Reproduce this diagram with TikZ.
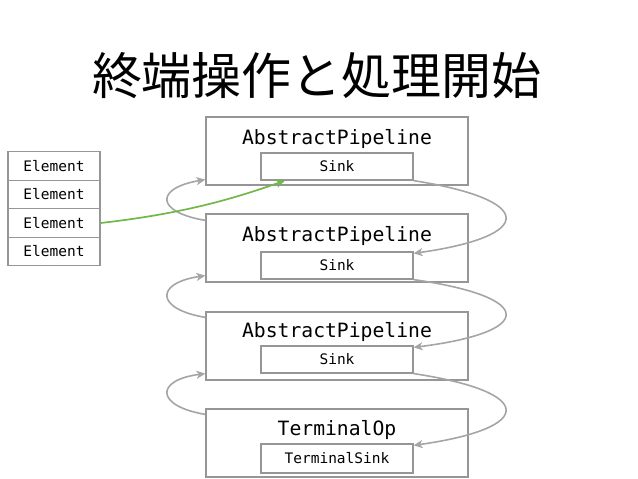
\documentclass[tikz,border=0pt]{standalone}
\usepackage{fontspec}
\setmonofont{DejaVu Sans Mono}
\newfontfamily\cjk{Noto Sans CJK JP}
\usetikzlibrary{arrows.meta}
\definecolor{boxgray}{RGB}{150,150,150}
\definecolor{arrgray}{RGB}{165,165,165}
\definecolor{grn}{RGB}{112,184,72}
\tikzset{
  x=1pt, y=-1pt,
  pipebox/.style={draw=boxgray, line width=1.2pt, minimum width=262pt, minimum height=68pt, inner sep=0pt},
  sinkbox/.style={draw=boxgray, line width=1.2pt, minimum width=152pt, minimum height=27pt, inner sep=0pt, font=\ttfamily\fontsize{14.5}{16}\selectfont},
  elembox/.style={draw=boxgray, line width=1.2pt, minimum width=92pt, minimum height=28.5pt, inner sep=0pt, font=\ttfamily\fontsize{14.5}{16}\selectfont},
  pipelabel/.style={font=\ttfamily\fontsize{19.7}{22}\selectfont, inner sep=0pt},
  flow/.style={draw=arrgray, line width=1.6pt, -{Stealth[length=9pt,width=8pt,inset=2.5pt]}},
  greenflow/.style={draw=grn, line width=1.7pt, -{Stealth[length=9pt,width=8pt,inset=2.5pt]}}
}
\begin{document}
\begin{tikzpicture}
\useasboundingbox (0,0) rectangle (638,479);
\node[font=\cjk\fontsize{50}{56}\selectfont, inner sep=0pt] (title) at (317,76) {終端操作と処理開始};

\node[pipebox] (box1) at (337,151) {};
\node[pipebox] (box2) at (337,248) {};
\node[pipebox] (box3) at (337,346) {};
\node[pipebox] (box4) at (337,443) {};

\node[pipelabel] (lab1) at (337,139) {AbstractPipeline};
\node[pipelabel] (lab2) at (337,236) {AbstractPipeline};
\node[pipelabel] (lab3) at (337,332) {AbstractPipeline};
\node[pipelabel] (lab4) at (337,430) {TerminalOp};

\node[sinkbox] (sink1) at (337,166.5) {Sink};
\node[sinkbox] (sink2) at (337,265.5) {Sink};
\node[sinkbox] (sink3) at (337,359.5) {Sink};
\node[sinkbox, minimum height=29pt] (sink4) at (337,458.5) {TerminalSink};

\node[elembox] (e1) at (54,166) {Element};
\node[elembox] (e2) at (54,194.5) {Element};
\node[elembox] (e3) at (54,223) {Element};
\node[elembox] (e4) at (54,251.5) {Element};

% right-side sink-to-sink arrows
\draw[flow] (sink1.south east) .. controls (536,200) and (536,236) .. ([yshift=-2pt]sink2.north east);
\draw[flow] (sink2.south east) .. controls (536,297) and (536,332) .. ([yshift=-2pt]sink3.north east);
\draw[flow] (sink3.south east) .. controls (536,392) and (536,428) .. ([yshift=-2pt]sink4.north east);

% left-side box-to-box arrows
\draw[flow] ([yshift=-7pt]box2.north west) .. controls (155,212) and (155,188) .. ([yshift=6pt]box1.south west);
\draw[flow] ([yshift=-6pt]box3.north west) .. controls (155,309) and (155,283) .. ([yshift=7pt]box2.south west);
\draw[flow] ([yshift=-6pt]box4.north west) .. controls (155,406) and (155,380) .. ([yshift=7pt]box3.south west);

% green arrow
\draw[greenflow] (e3.east) .. controls (180,214) and (230,200) .. ([xshift=-52pt]sink1.south);
\end{tikzpicture}
\end{document}
